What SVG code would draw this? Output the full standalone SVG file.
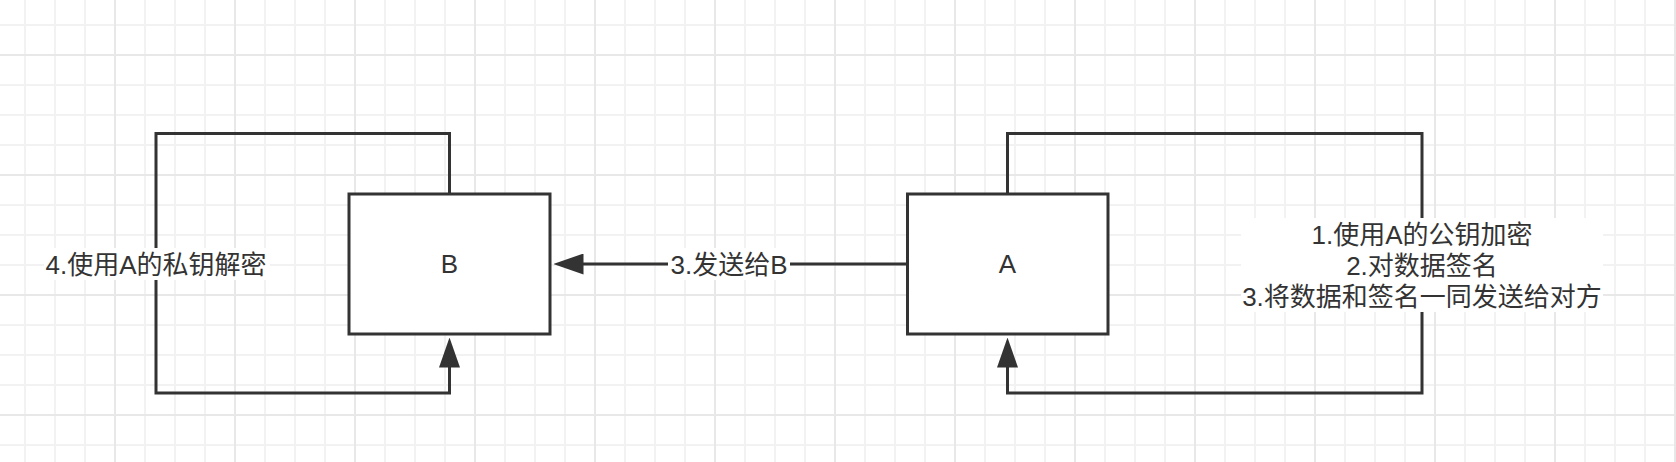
<svg xmlns="http://www.w3.org/2000/svg" width="1676" height="462" viewBox="0 0 1676 462">
<style>
.box{fill:#ffffff;stroke:#333333;stroke-width:3}
.edge{fill:none;stroke:#333333;stroke-width:3;stroke-linejoin:miter}
.lbg{fill:#ffffff}
.t{font-family:"Liberation Sans","Noto Sans CJK SC",sans-serif;font-size:26px;fill:#333333;text-anchor:middle}
</style>
<defs>
<pattern id="minor" patternUnits="userSpaceOnUse" x="10" y="10" width="30" height="30">
<path d="M15 0V30M0 15H30" stroke="#f2f2f2" stroke-width="2" fill="none"/>
</pattern>
<pattern id="major" patternUnits="userSpaceOnUse" x="55" y="-5" width="120" height="120">
<path d="M60 0V120M0 60H120" stroke="#e8e8e8" stroke-width="2" fill="none"/>
</pattern>
<marker id="arrow" markerUnits="userSpaceOnUse" markerWidth="30" markerHeight="21" viewBox="0 0 30 21" refX="4" refY="10.5" orient="auto">
<path d="M0 0L30 10.5L0 21Z" fill="#333333"/>
</marker>
</defs>
<rect width="1676" height="462" fill="#ffffff"/>
<rect width="1676" height="462" fill="url(#minor)"/>
<rect width="1676" height="462" fill="url(#major)"/>

<g id="connectors">
<path class="edge" d="M449.5 194V133.5H156V393H449.5V363.5" marker-end="url(#arrow)"/>
<path class="edge" d="M907.5 264H579.5" marker-end="url(#arrow)"/>
<path class="edge" d="M1007.5 194V133.5H1422V393H1007.5V363.5" marker-end="url(#arrow)"/>
</g>

<g id="node-B">
<rect class="box" x="349" y="194" width="201" height="140"/>
<text class="t" x="449.5" y="273">B</text>
</g>

<g id="node-A">
<rect class="box" x="907.5" y="194" width="200.5" height="140"/>
<text class="t" x="1007.5" y="273">A</text>
</g>

<g id="label-B-loop">
<rect class="lbg" x="44" y="248" width="226" height="32"/>
<text class="t" x="156" y="274">4.使用A的私钥解密</text>
</g>

<g id="label-send">
<rect class="lbg" x="668" y="248" width="122" height="32"/>
<text class="t" x="729" y="274">3.发送给B</text>
</g>

<g id="label-A-loop">
<rect class="lbg" x="1241" y="218" width="362" height="94"/>
<text class="t" x="1422" y="243.5">1.使用A的公钥加密</text>
<text class="t" x="1422" y="274.5">2.对数据签名</text>
<text class="t" x="1422" y="305.5">3.将数据和签名一同发送给对方</text>
</g>
</svg>
